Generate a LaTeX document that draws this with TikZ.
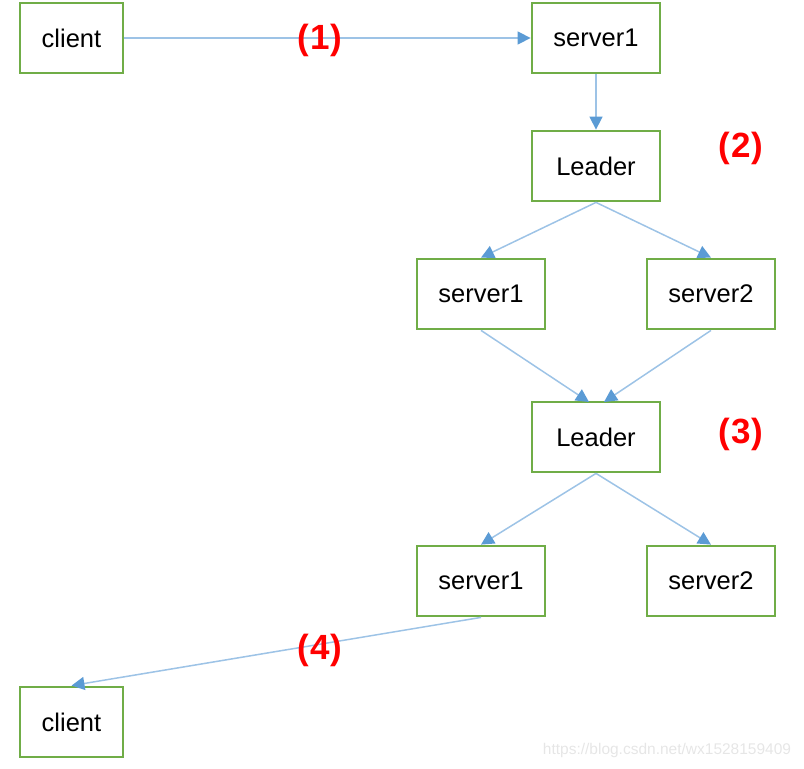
\documentclass[tikz,border=0pt]{standalone}
\usepackage{fontspec}
\setmainfont{Liberation Sans}
\usetikzlibrary{arrows.meta}
\definecolor{boxgreen}{HTML}{70AD47}
\definecolor{lineblue}{HTML}{9DC3E6}
\definecolor{tipblue}{HTML}{5B9BD5}
\definecolor{wm}{HTML}{E6E6E6}
\tikzset{
  box/.style={draw=boxgreen, line width=2.8pt, fill=white, minimum width=128pt, minimum height=70pt, inner sep=0pt, font=\fontsize{25.5}{30}\selectfont},
  cbox/.style={box, minimum width=103pt},
  conn/.style={draw=lineblue, line width=1.5pt, -{Triangle[length=13pt,width=13pt,color=tipblue]}},
  lab/.style={text=red, font=\fontsize{35}{40}\bfseries\selectfont, inner sep=0pt},
}
\begin{document}
\begin{tikzpicture}[x=1pt,y=-1pt]
\useasboundingbox (0,0) rectangle (804,769);
\node[cbox] (c1) at (71.5,38) {client};
\node[box] (s0) at (596,38) {server1};
\node[box] (l1) at (596,166) {Leader};
\node[box] (s1a) at (481,294) {server1};
\node[box] (s2a) at (711,294) {server2};
\node[box] (l2) at (596,437) {Leader};
\node[box] (s1b) at (481,581) {server1};
\node[box] (s2b) at (711,581) {server2};
\node[cbox] (c2) at (71.5,722) {client};
\coordinate (l2in1) at (589,402);
\coordinate (l2in2) at (604,402);
\draw[conn] (c1.east) -- (s0.west);
\draw[conn] (s0.south) -- (l1.north);
\draw[conn] (l1.south) -- (s1a.north);
\draw[conn] (l1.south) -- (s2a.north);
\draw[conn] (s1a.south) -- (l2in1);
\draw[conn] (s2a.south) -- (l2in2);
\draw[conn] (l2.south) -- (s1b.north);
\draw[conn] (l2.south) -- (s2b.north);
\draw[conn] (s1b.south) -- (c2.north);
\node[lab] (n1) at (320,40) {(\kern1pt1\kern1pt)};
\node[lab] (n2) at (741,148) {(\kern1pt2\kern1pt)};
\node[lab] (n3) at (741,434) {(\kern1pt3\kern1pt)};
\node[lab] (n4) at (320,650) {(\kern1pt4\kern1pt)};
\node[text=wm, font=\fontsize{15.5}{18}\selectfont, inner sep=0pt] (wmk) at (667,750) {https://blog.csdn.net/wx1528159409};
\end{tikzpicture}
\end{document}
